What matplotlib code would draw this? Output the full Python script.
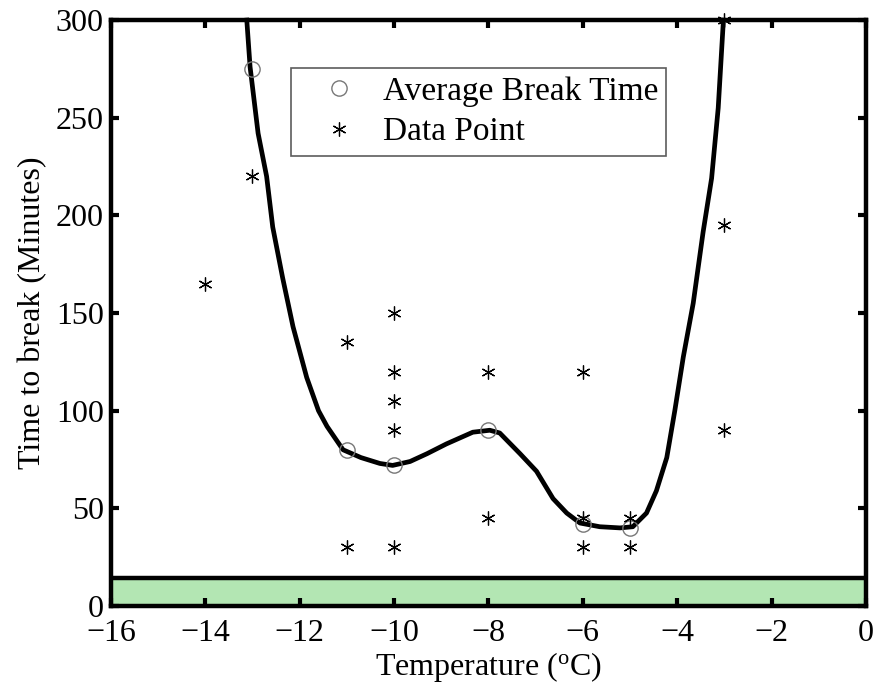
import matplotlib
matplotlib.use('Agg')
import matplotlib.pyplot as plt

plt.rcParams['font.family'] = 'Liberation Serif'
plt.rcParams['mathtext.fontset'] = 'custom'
plt.rcParams['mathtext.rm'] = 'Liberation Serif'

# average break time per temperature
avg_temp = [-13, -11, -10, -8, -6, -5]
avg_time = [275, 80, 72, 90, 42, 40]

# individual measurements
pt_temp = [-14, -13, -11, -11, -10, -10, -10, -10, -10, -8, -8, -6, -6, -6, -5, -5, -3, -3, -3]
pt_time = [165, 220, 135, 30, 150, 120, 105, 90, 30, 120, 45, 120, 45, 30, 45, 30, 300, 195, 90]

# smoothed fit curve
fit_temp = [-13.12, -13.05, -12.88, -12.70, -12.57, -12.36, -12.14, -11.85, -11.6, -11.42,
            -11.08, -10.7, -10.30, -10.03, -9.66, -9.3, -8.89, -8.33, -7.97, -7.76, -7.33,
            -6.98, -6.63, -6.34, -6.06, -5.64, -5.21, -4.94, -4.65, -4.44, -4.22, -4.05,
            -3.87, -3.66, -3.45, -3.27, -3.13, -3.02]
fit_time = [300, 276, 242, 220, 194, 168, 143, 117, 100, 92,
            80, 76, 73, 72, 74, 78, 83, 89, 90, 88.6, 78,
            69, 55, 47.6, 42.5, 40.6, 40, 40.6, 47.6, 59, 76, 100,
            127.5, 155, 191.5, 219, 255, 300]

band_top = 14.5

fig = plt.figure(figsize=(8.8, 6.93), dpi=100)
ax = fig.add_axes([0.126, 0.1255, 0.858, 0.8455])

ax.axhspan(0, band_top, color='#b3e6b3', zorder=1)
ax.axhline(band_top, color='black', lw=3.2, zorder=2)

ax.plot(fit_temp, fit_time, color='black', lw=3.4, zorder=3, clip_on=False,
        solid_joinstyle='round')
ax.plot(avg_temp, avg_time, 'o', mfc='none', mec='#777777', ms=11, mew=1.0,
        label='Average Break Time', zorder=4)
ax.plot(pt_temp, pt_time, ls='none', marker=(6, 2, 0), color='black', ms=10, mew=0.9,
        label='Data Point', zorder=5, clip_on=False)

ax.set_xlim(-16, 0)
ax.set_ylim(0, 300)
ax.set_xticks(range(-16, 1, 2))
ax.set_xticklabels(['\u221216', '\u221214', '\u221212', '\u221210', '\u22128', '\u22126',
                    '\u22124', '\u22122', '0'])
ax.set_yticks(range(0, 301, 50))
ax.tick_params(direction='in', length=6, width=3, labelsize=23, pad=5,
               top=True, right=True)
ax.tick_params(axis='x', pad=9)
for s in ax.spines.values():
    s.set_linewidth(3.2)

ax.set_xlabel('Temperature ($\\mathregular{^{o}}$C)', fontsize=23, labelpad=2)
ax.set_ylabel('Time to break (Minutes)', fontsize=23, labelpad=6)

leg = ax.legend(loc='upper left', bbox_to_anchor=(0.2384, 0.918), borderaxespad=0,
                fontsize=24, frameon=True, fancybox=False, edgecolor='#333333',
                handletextpad=0.1, borderpad=0.25, labelspacing=0.3, handlelength=2.4)
leg.get_frame().set_linewidth(1.2)

fig.savefig('out.png', dpi=100)
